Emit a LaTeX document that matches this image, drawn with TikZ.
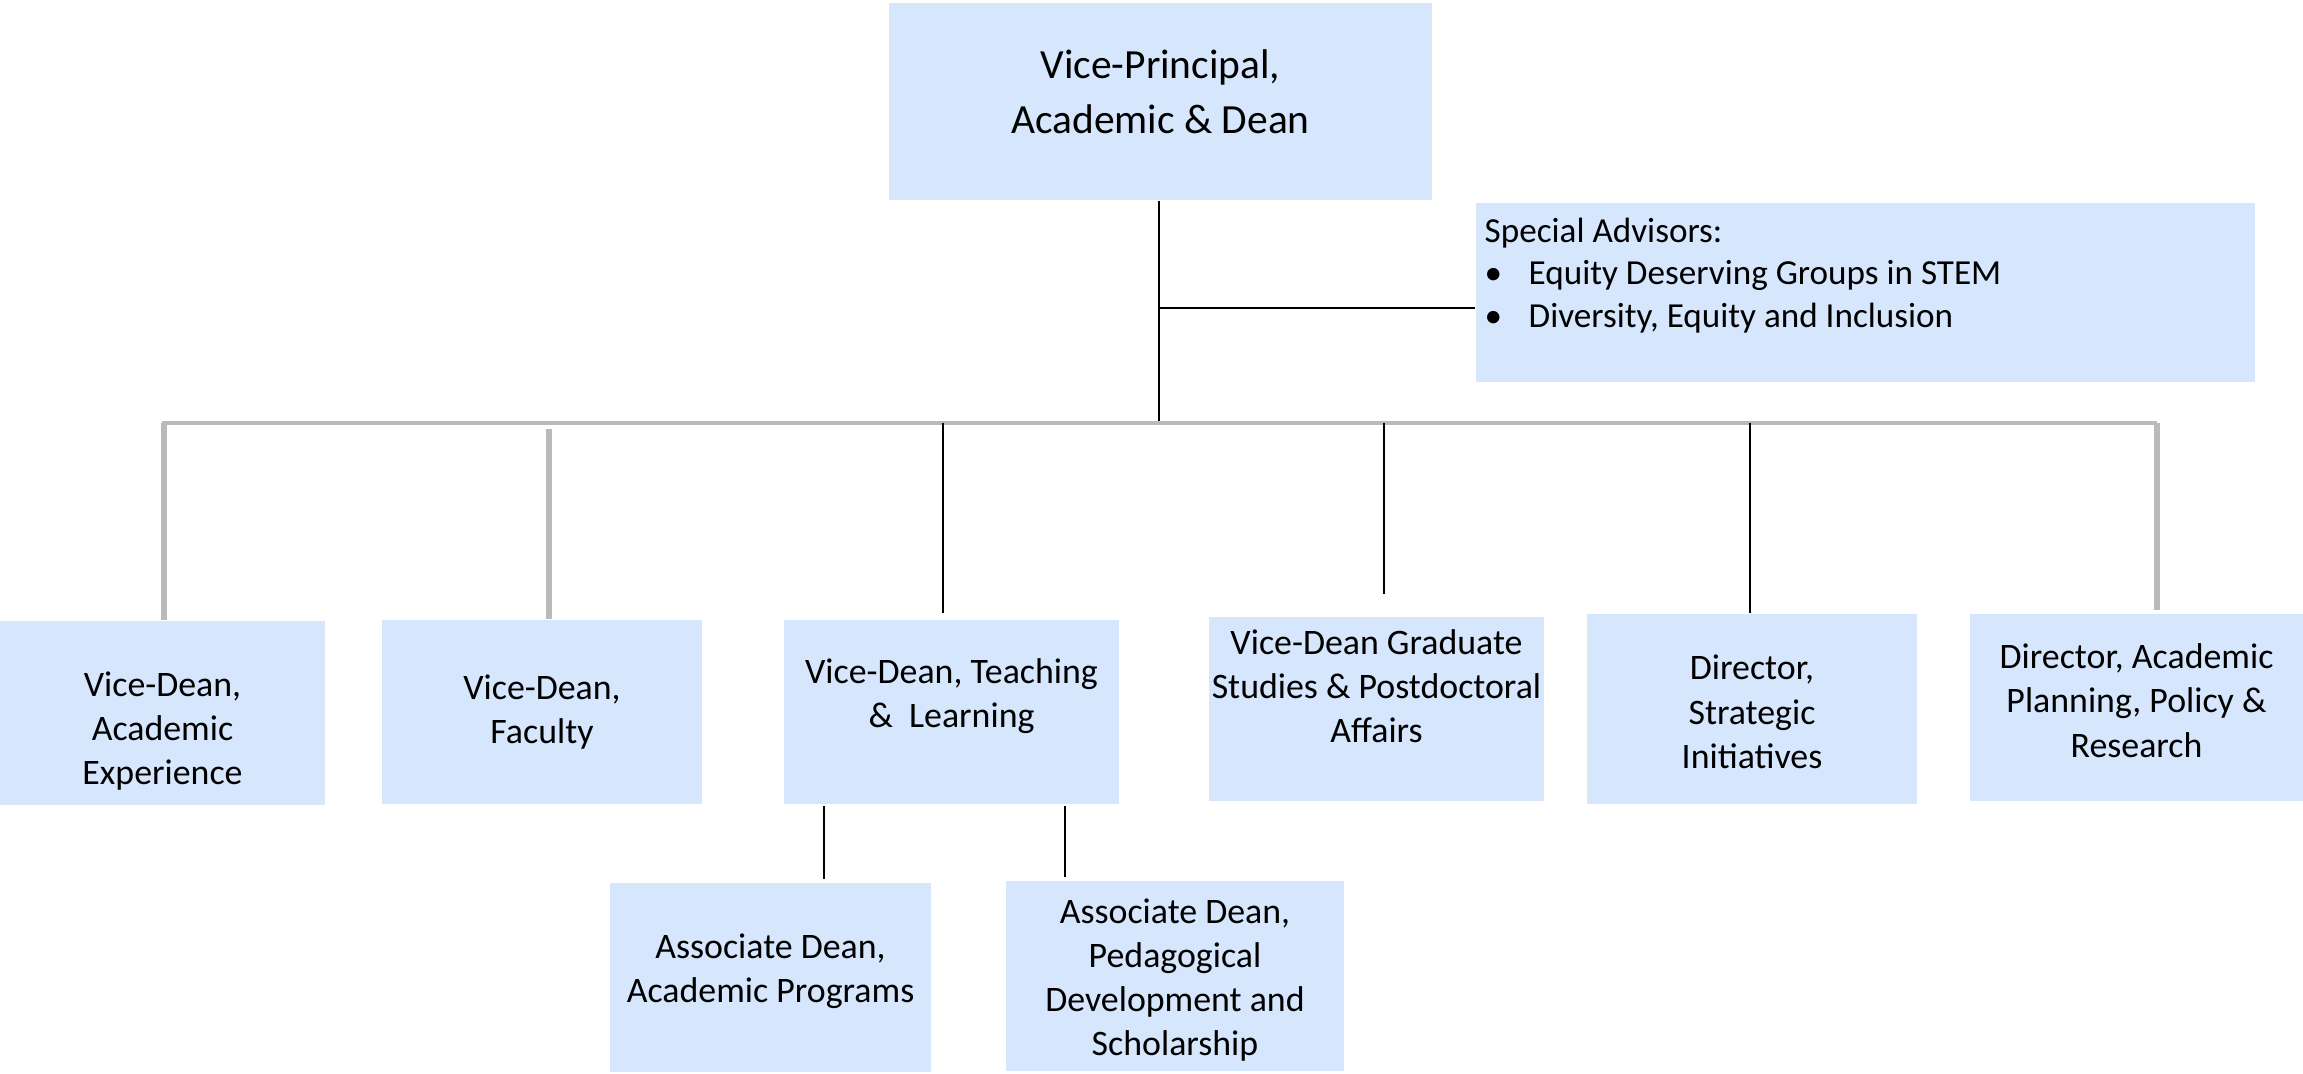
\documentclass[tikz,border=0pt]{standalone}
\usepackage{fontspec}
\setmainfont{Carlito}
\definecolor{boxblue}{RGB}{214,230,252}
\definecolor{barsilver}{RGB}{186,186,186}

\begin{document}
\begin{tikzpicture}[
  unit/.style={fill=boxblue,draw=none,inner sep=0pt},
  txt/.style={inner sep=0pt,align=center,font=\fontsize{10.2}{12.6}\selectfont},
  thinlink/.style={black,line width=0.45pt},
  greylink/.style={barsilver,line width=1.5pt}]
\useasboundingbox (0,0) rectangle (23.03,10.74);

% top of the chart
\node[unit,minimum width=5.43cm,minimum height=1.97cm] (vp) at (11.605,9.725) {};
\node[txt,font=\fontsize{11.8}{15.6}\selectfont] (vptxt) at ([yshift=0.10cm]vp.center) {Vice-Principal,\\Academic \& Dean};
\node[unit,minimum width=7.79cm,minimum height=1.79cm] (adv) at (18.655,7.815) {};
\node[anchor=north west,inner sep=0pt,align=left,font=\fontsize{10}{12.1}\selectfont] (advtxt) at (14.84,8.57) {Special Advisors:\\
\makebox[0.44cm][l]{\textbullet}Equity Deserving Groups in STEM\\
\makebox[0.44cm][l]{\textbullet}Diversity, Equity and Inclusion};

% vice-deans and directors
\node[unit,minimum width=3.25cm,minimum height=1.84cm] (vdae) at (1.625,3.61) {};
\node[txt] (vdaetxt) at ([yshift=-0.18cm]vdae.center) {Vice-Dean,\\Academic\\Experience};
\node[unit,minimum width=3.2cm,minimum height=1.84cm] (vdf) at (5.42,3.62) {};
\node[txt] (vdftxt) at (vdf.center) {Vice-Dean,\\Faculty};
\node[unit,minimum width=3.35cm,minimum height=1.84cm] (vdtl) at (9.515,3.62) {};
\node[txt] (vdtltxt) at ([yshift=0.16cm]vdtl.center) {Vice-Dean, Teaching\\\&\ \ Learning};
\node[unit,minimum width=3.35cm,minimum height=1.84cm] (vdgs) at (13.765,3.65) {};
\node[txt] (vdgstxt) at ([yshift=0.23cm]vdgs.center) {Vice-Dean Graduate\\Studies \& Postdoctoral\\Affairs};
\node[unit,minimum width=3.3cm,minimum height=1.9cm] (dsi) at (17.52,3.65) {};
\node[txt] (dsitxt) at ([yshift=-0.03cm]dsi.center) {Director,\\Strategic\\Initiatives};
\node[unit,minimum width=3.33cm,minimum height=1.87cm] (dapr) at (21.365,3.665) {};
\node[txt] (daprtxt) at ([yshift=0.07cm]dapr.center) {Director, Academic\\Planning, Policy \&\\Research};

% associate deans
\node[unit,minimum width=3.21cm,minimum height=1.89cm] (adap) at (7.705,0.965) {};
\node[txt] (adaptxt) at ([yshift=0.06cm]adap.center) {Associate Dean,\\Academic Programs};
\node[unit,minimum width=3.38cm,minimum height=1.9cm] (adpd) at (11.75,0.98) {};
\node[txt] (adpdtxt) at ([yshift=-0.04cm]adpd.center) {Associate Dean,\\Pedagogical\\Development and\\Scholarship};

% lines
\coordinate (hub) at (11.59,7.66);
\coordinate (busL) at (1.62,6.51);
\coordinate (busR) at (21.57,6.51);
\draw[thinlink] (vp.south -| hub) -- (hub |- busL);
\draw[thinlink] (hub) -- (hub -| adv.west);
\draw[greylink,line width=1.4pt] (busL) -- (busR);

\coordinate (dA) at (1.64,6.51);
\coordinate (dB) at (5.49,6.45);
\coordinate (dC) at (9.43,6.51);
\coordinate (dD) at (13.84,6.51);
\coordinate (dE) at (17.50,6.51);
\coordinate (dF) at (21.57,6.51);
\draw[greylink] (dA) -- (dA |- vdae.north);
\draw[greylink] (dB) -- (dB |- vdf.north);
\draw[thinlink,shorten >=0.06cm] (dC) -- (dC |- vdtl.north);
\draw[thinlink,shorten >=0.22cm] (dD) -- (dD |- vdgs.north);
\draw[thinlink] (dE) -- (dE |- dsi.north);
\draw[greylink,shorten >=0.03cm] (dF) -- (dF |- dapr.north);

\coordinate (sA) at (8.24,2.68);
\coordinate (sB) at (10.65,2.68);
\draw[thinlink,shorten >=0.03cm] (sA) -- (sA |- adap.north);
\draw[thinlink,shorten >=0.03cm] (sB) -- (sB |- adpd.north);

\end{tikzpicture}
\end{document}
